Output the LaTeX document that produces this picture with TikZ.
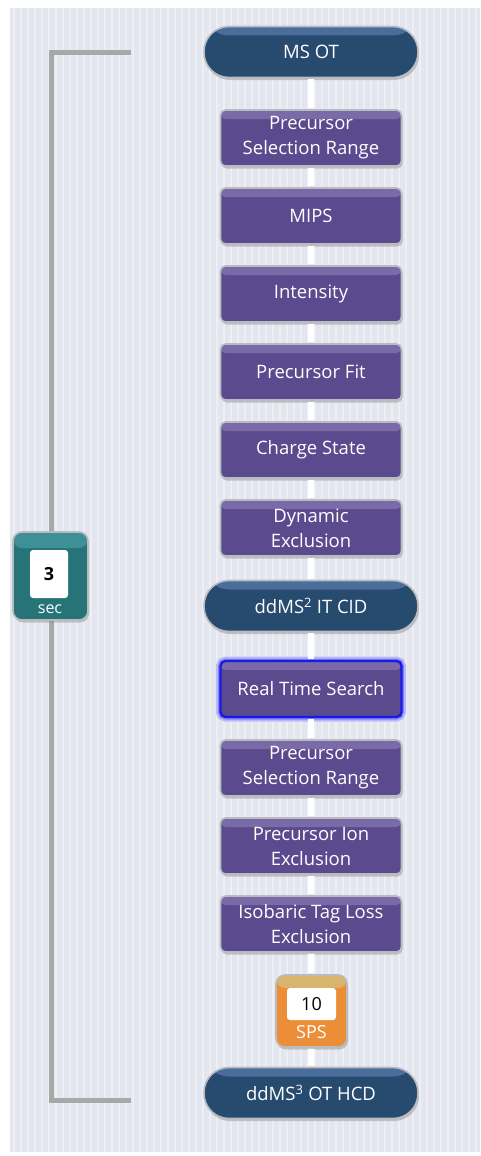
\documentclass[tikz,border=0pt]{standalone}
\usepackage{fontspec}
\setmainfont{Open Sans}
\usetikzlibrary{shadows}
\definecolor{panel}{HTML}{E3E6EE}
\definecolor{stripe}{HTML}{EDEFF4}
\definecolor{bracketgray}{HTML}{A8A8A8}
\definecolor{boxrim}{HTML}{B9BBC0}
\definecolor{scanblue}{HTML}{274A6F}
\definecolor{scantop}{HTML}{4A6D9C}
\definecolor{filtpurple}{HTML}{5B4A8E}
\definecolor{filttop}{HTML}{7A6AA8}
\definecolor{timeteal}{HTML}{267477}
\definecolor{timetop}{HTML}{3F8F96}
\definecolor{spsorange}{HTML}{EC8E38}
\definecolor{spstop}{HTML}{D9B46C}
\definecolor{glowblue}{HTML}{1A1AE6}

\begin{document}
\begin{tikzpicture}[x=1pt,y=-1pt,
    base_node/.style={draw=boxrim, line width=1.6pt, text=white, align=center,
        font=\fontsize{18.5}{25}\selectfont,
        drop shadow={shadow xshift=1pt, shadow yshift=-2.5pt, opacity=0.4}},
    scan_node/.style={base_node, fill=scanblue, rounded corners=25pt,
        minimum width=214pt, minimum height=51pt,
        path picture={\fill[scantop] (path picture bounding box.north west)
            rectangle ([yshift=-9pt]path picture bounding box.north east);}},
    filter_node/.style={base_node, fill=filtpurple, rounded corners=5pt,
        minimum width=181pt, minimum height=56pt,
        path picture={\fill[filttop] (path picture bounding box.north west)
            rectangle ([yshift=-9pt]path picture bounding box.north east);}},
    picked_node/.style={filter_node, draw=glowblue, line width=2.4pt,
        preaction={draw=glowblue!30, line width=9pt},
        preaction={draw=glowblue!55, line width=5pt}},
    count_node/.style={base_node, rounded corners=9pt, minimum width=71pt, minimum height=72pt,
        text height=0pt},
    value_node/.style={fill=white, rounded corners=3pt, text=black, inner sep=0pt,
        font=\fontsize{18}{20}\selectfont},
    link/.style={white, line width=6pt, shorten <=1pt, shorten >=1pt},
    bracket/.style={bracketgray, line width=5pt}]

    \useasboundingbox (0,0) rectangle (480,1156);
    \fill[panel] (10,8) rectangle (480,1152);
    \foreach \x in {14,21,...,476}
        \draw[stripe, line width=2pt] (\x,8) -- (\x,1152);

    % cycle time bracket
    \coordinate (top_end) at (131,53);
    \coordinate (bot_end) at (131,1100);
    \draw[bracket] (top_end) -- (51,53) -- (51,1100) -- (bot_end);

    \node[count_node, fill=timeteal, minimum width=75pt, minimum height=88pt,
        path picture={\fill[timetop] (path picture bounding box.north west)
            rectangle ([yshift=-16pt]path picture bounding box.north east);}] (time) at (50.5,576) {};
    \node[value_node, minimum width=38pt, minimum height=48pt, font=\bfseries\fontsize{18}{20}\selectfont] (sec_val) at (49,574) {3};
    \node[text=white, font=\fontsize{16}{18}\selectfont, inner sep=0pt] (sec_lbl) at (50,609) {sec};

    % scan chain
    \node[scan_node] (1) at (311,52) {MS OT};
    \node[filter_node] (2) at (311,138) {Precursor\\Selection Range};
    \node[filter_node] (3) at (311,216) {MIPS};
    \node[filter_node] (4) at (311,294) {Intensity};
    \node[filter_node] (5) at (311,372) {Precursor Fit};
    \node[filter_node] (6) at (311,450) {Charge State};
    \node[filter_node] (7) at (311,528) {Dynamic\\Exclusion};
    \node[scan_node] (8) at (311,606) {ddMS\textsuperscript{2} IT CID};
    \node[picked_node] (9) at (311,689) {Real Time Search};
    \node[filter_node] (10) at (311,768) {Precursor\\Selection Range};
    \node[filter_node] (11) at (311,846) {Precursor Ion\\Exclusion};
    \node[filter_node] (12) at (311,924) {Isobaric Tag Loss\\Exclusion};
    \node[count_node, fill=spsorange,
        path picture={\fill[spstop] (path picture bounding box.north west)
            rectangle ([yshift=-13pt]path picture bounding box.north east);}] (13) at (311.5,1011) {};
    \node[value_node, minimum width=49pt, minimum height=32pt] (sps_val) at (311.5,1004) {10};
    \node[text=white, font=\fontsize{18}{20}\selectfont, inner sep=0pt] (sps_lbl) at (311.5,1032) {SPS};
    \node[scan_node] (14) at (311,1093) {ddMS\textsuperscript{3} OT HCD};

    \foreach \a/\b in {1/2,2/3,3/4,4/5,5/6,6/7,7/8,8/9,9/10,10/11,11/12,12/13,13/14}
        \draw[link] (\a.south) -- (\b.north);
\end{tikzpicture}
\end{document}
